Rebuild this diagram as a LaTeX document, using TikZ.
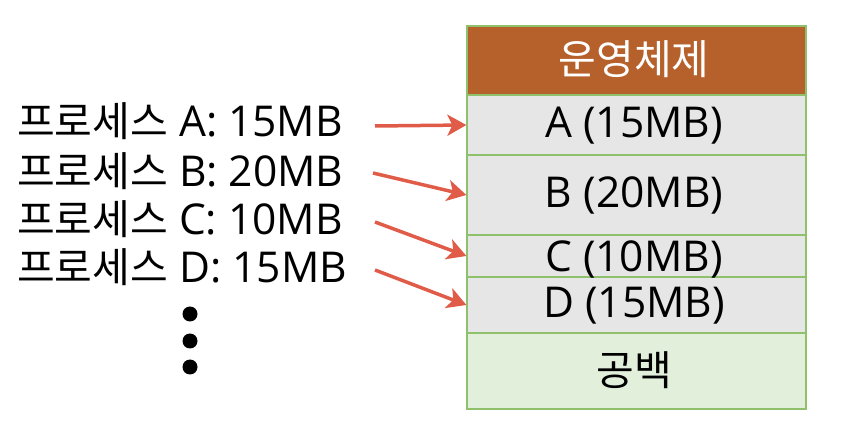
\documentclass[tikz,border=0pt]{standalone}
\usepackage{fontspec}
\setmainfont{Open Sans}
\newfontfamily\kr{Noto Sans CJK KR}
\usetikzlibrary{arrows.meta}
\definecolor{osbrown}{HTML}{B6602C}
\definecolor{cellgray}{HTML}{E7E6E6}
\definecolor{cellgreen}{HTML}{E2EFDA}
\definecolor{cellborder}{HTML}{8FC06C}
\definecolor{arrowred}{HTML}{E05C48}
\newcommand{\hg}[1]{{\kr\fontsize{41}{44}\selectfont #1}}
\tikzset{
  cell/.style={draw=cellborder, line width=1.2pt, rectangle, inner sep=0pt, minimum width=339pt},
  lbl/.style={font=\fontsize{42.5}{46}\selectfont, anchor=base, inner sep=0pt},
  proc/.style={font=\fontsize{42.5}{46}\selectfont, anchor=base west, inner sep=0pt},
  arr/.style={draw=arrowred, line width=3.5pt, -{Stealth[length=19pt, width=21pt, inset=5pt]}},
  dot/.style={circle, fill=black, inner sep=0pt, minimum size=15pt}
}
\begin{document}
\begin{tikzpicture}[x=1pt, y=-1pt]
\useasboundingbox (0,0) rectangle (841,438);
% memory cells
\node[cell, fill=osbrown, minimum height=69pt] (os) at (636.5,60.5) {};
\node[cell, fill=cellgray, minimum height=60pt] (cA) at (636.5,125) {};
\node[cell, fill=cellgray, minimum height=80pt] (cB) at (636.5,195) {};
\node[cell, fill=cellgray, minimum height=42pt] (cC) at (636.5,256) {};
\node[cell, fill=cellgray, minimum height=56pt] (cD) at (636.5,305) {};
\node[cell, fill=cellgreen, minimum height=76pt] (free) at (636.5,371) {};
% cell labels
\node[lbl, text=white] (los) at (634,75) {\hg{운영체제}};
\node[lbl] (lA) at (634,138) {A (15MB)};
\node[lbl] (lB) at (634,208) {B (20MB)};
\node[lbl] (lC) at (634,272) {C (10MB)};
\node[lbl] (lD) at (634,318) {D (15MB)};
\node[lbl] (lfree) at (634,385) {\hg{공백}};
% process list
\node[proc] (pA) at (17,137) {\hg{프로세스} A: 15MB};
\node[proc] (pB) at (17,187) {\hg{프로세스} B: 20MB};
\node[proc] (pC) at (17,235) {\hg{프로세스} C: 10MB};
\node[proc] (pD) at (17,283) {\hg{프로세스} D: 15MB};
% arrow starts
\coordinate (sA) at (375,126);
\coordinate (sB) at (373,173);
\coordinate (sC) at (375,222);
\coordinate (sD) at (375,270);
\draw[arr] (sA) -- (cA.west);
\draw[arr] (sB) -- (cB.west);
\draw[arr] (sC) -- (cC.west);
\draw[arr] (sD) -- (cD.west);
% dots
\node[dot] (d1) at (190,314) {};
\node[dot] (d2) at (190,341) {};
\node[dot] (d3) at (190,367) {};
\end{tikzpicture}
\end{document}
